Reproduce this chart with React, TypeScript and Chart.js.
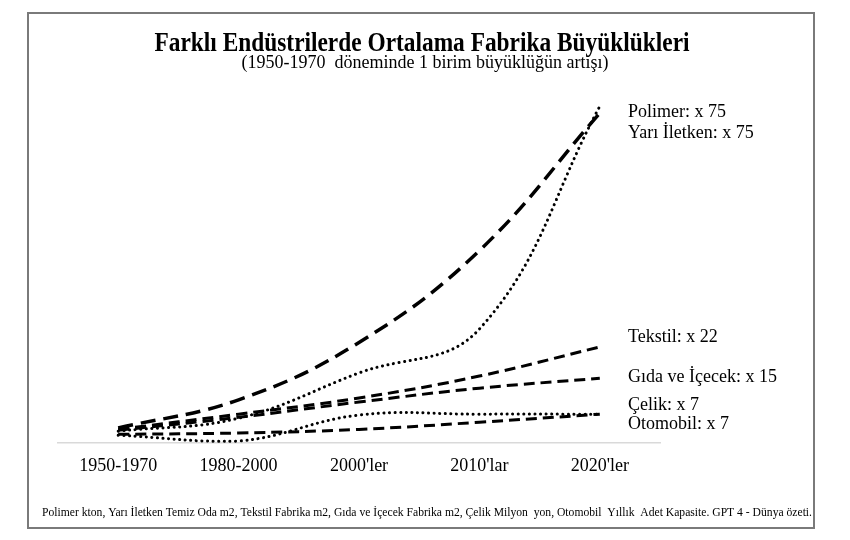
import React, { useEffect, useRef } from 'react';
import { Chart, registerables } from 'chart.js';

Chart.register(...registerables);

// data (1950-1970 = start, ends are the "x N" multipliers)
const categories = ["1950-1970", "1980-2000", "2000'ler", "2010'lar", "2020'ler"];

const polimer = [3.9, 10.2, 23.0, 43.5, 74.2];
const yariIletken = [3.2, 6.1, 16.2, 26.0, 75.7];
const tekstil = [3.6, 7.0, 10.6, 15.5, 22];
const gida = [3.4, 6.3, 9.7, 12.8, 15];
const celik = [2.3, 1.0, 6.8, 7.0, 7];
const otomobil = [2.5, 2.8, 3.6, 5.2, 7];

const endLabels = [
  'Polimer: x 75',
  'Yarı İletken: x 75',
  'Tekstil: x 22',
  'Gıda ve İçecek: x 15',
  'Çelik: x 7',
  'Otomobil: x 7',
];

const titleText = 'Farklı Endüstrilerde Ortalama Fabrika Büyüklükleri';
const subtitleText = '(1950-1970  döneminde 1 birim büyüklüğün artışı)';
const footText =
  'Polimer kton, Yarı İletken Temiz Oda m2, Tekstil Fabrika m2, Gıda ve İçecek Fabrika m2, Çelik Milyon  yon, Otomobil  Yıllık  Adet Kapasite. GPT 4 - Dünya özeti.';

const SERIF = '"Liberation Serif", "Times New Roman", serif';
const labelY = [112, 133, 337, 377, 405, 424];

const decorPlugin = {
  id: 'decor',
  beforeDraw(chart: Chart) {
    const ctx = chart.ctx;
    ctx.save();
    ctx.fillStyle = '#fff';
    ctx.fillRect(0, 0, chart.width, chart.height);
    ctx.restore();
  },
  afterDraw(chart: Chart) {
    const ctx = chart.ctx;
    ctx.save();
    // frame
    ctx.strokeStyle = '#7a7a7a';
    ctx.lineWidth = 2;
    ctx.strokeRect(28, 13, 786, 515);

    ctx.fillStyle = '#000';
    ctx.textAlign = 'center';
    ctx.textBaseline = 'alphabetic';
    ctx.font = 'bold 28px ' + SERIF;
    ctx.fillText(titleText, 422, 51, 535);
    ctx.font = '18px ' + SERIF;
    ctx.fillText(subtitleText, 425, 68, 374);

    ctx.textAlign = 'left';
    ctx.textBaseline = 'middle';
    endLabels.forEach((t, i) => ctx.fillText(t, 628, labelY[i]));

    ctx.textAlign = 'center';
    ctx.font = '12px ' + SERIF;
    ctx.fillText(footText, 427, 513, 770);
    ctx.restore();
  },
};

const dashed = (data: number[], label: string, dash: number[], width: number) => ({
  label,
  data,
  borderColor: '#000',
  borderWidth: width,
  borderDash: dash,
  borderCapStyle: 'butt' as const,
  pointRadius: 0,
  tension: 0.4,
  fill: false,
  clip: false as const,
});

const dotted = (data: number[], label: string) => ({
  label,
  data,
  borderColor: '#000',
  borderWidth: 3,
  borderDash: [0.1, 5.5],
  borderCapStyle: 'round' as const,
  pointRadius: 0,
  tension: 0.4,
  fill: false,
  clip: false as const,
});

export default function App() {
  const canvasRef = useRef<HTMLCanvasElement>(null);

  useEffect(() => {
    const ctx = canvasRef.current?.getContext('2d');
    if (!ctx) return;

    const chart = new Chart(ctx, {
      type: 'line',
      data: {
        labels: categories,
        datasets: [
          dashed(otomobil, 'Otomobil', [11, 6], 3),
          dotted(celik, 'Çelik'),
          dashed(gida, 'Gıda ve İçecek', [11, 6], 3),
          dashed(tekstil, 'Tekstil', [11, 6], 3),
          dotted(yariIletken, 'Yarı İletken'),
          dashed(polimer, 'Polimer', [15, 8], 3.5),
        ],
      },
      options: {
        responsive: false,
        animation: false,
        devicePixelRatio: 1,
        layout: {
          padding: { left: 58, right: 190, top: 87, bottom: 50 },
        },
        plugins: {
          legend: { display: false },
          title: { display: false },
          tooltip: { enabled: false },
        },
        scales: {
          x: {
            offset: true,
            grid: { display: false, drawTicks: false },
            border: { display: true, color: '#d9d9d9', width: 1.5 },
            ticks: {
              color: '#000',
              padding: 13,
              maxRotation: 0,
              autoSkip: false,
              font: { family: SERIF, size: 18 },
            },
          },
          y: {
            display: false,
            min: 0.7,
            max: 80,
          },
        },
      },
      plugins: [decorPlugin],
    });

    return () => {
      chart.destroy();
    };
  }, []);

  return (
    <div style={{ position: 'absolute', left: 0, top: 0, width: 850, height: 540 }}>
      <canvas ref={canvasRef} width={850} height={540} />
    </div>
  );
}
